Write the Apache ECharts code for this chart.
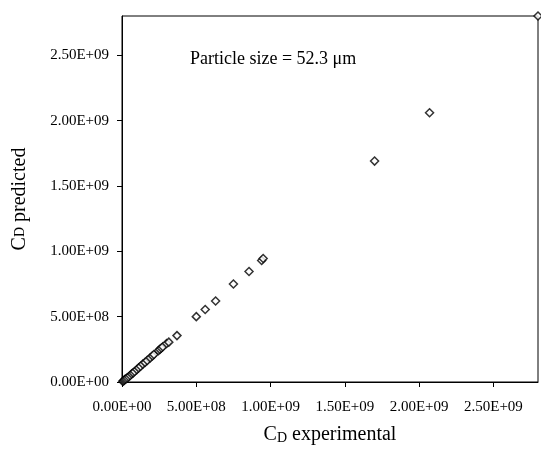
<!DOCTYPE html>
<html>
<head>
<meta charset="utf-8">
<script src="https://cdn.jsdelivr.net/npm/echarts@6/dist/echarts.min.js"></script>
<style>html,body{margin:0;padding:0;background:#fff;}#c{width:541px;height:450px;}</style>
</head>
<body>
<div id="c"></div>
<script>
// C_D experimental (x) and C_D predicted (y), values
const cdExperimental = [0.005e9,0.01e9,0.015e9,0.02e9,0.028e9,0.035e9,0.045e9,0.055e9,0.065e9,0.075e9,0.085e9,0.1e9,0.112e9,0.125e9,0.14e9,0.155e9,0.17e9,0.19e9,0.205e9,0.215e9,0.245e9,0.255e9,0.265e9,0.275e9,0.3e9,0.315e9,0.37e9,0.5e9,0.56e9,0.63e9,0.75e9,0.855e9,0.94e9,0.95e9,1.70e9,2.07e9,2.8e9];
const cdPredicted    = [0.005e9,0.008e9,0.014e9,0.02e9,0.025e9,0.033e9,0.04e9,0.05e9,0.062e9,0.07e9,0.08e9,0.095e9,0.108e9,0.12e9,0.137e9,0.15e9,0.165e9,0.185e9,0.2e9,0.21e9,0.24e9,0.25e9,0.26e9,0.27e9,0.295e9,0.305e9,0.355e9,0.5e9,0.555e9,0.62e9,0.75e9,0.845e9,0.93e9,0.945e9,1.69e9,2.06e9,2.8e9];
const tickLabels = ['0.00E+00','5.00E+08','1.00E+09','1.50E+09','2.00E+09','2.50E+09'];
const annotation = 'Particle size = 52.3 \u03bcm';

const points = cdExperimental.map((v,i)=>[v, cdPredicted[i]]);
const fmt = v => { const i = Math.round(v/5e8); return tickLabels[i] !== undefined ? tickLabels[i] : ''; };
const font = '"Liberation Serif", "Times New Roman", serif';

const chart = echarts.init(document.getElementById('c'), null, {renderer:'canvas'});
chart.setOption({
  animation:false,
  grid:{left:122,right:3,top:16,bottom:67,show:true,borderColor:'#000',borderWidth:1,backgroundColor:'transparent'},
  xAxis:{
    type:'value',min:0,max:2.8e9,interval:5e8,
    axisLine:{show:true,onZero:false,lineStyle:{color:'#000',width:1}},
    axisTick:{show:true,inside:false,length:5,lineStyle:{color:'#000'}},
    axisLabel:{formatter:fmt,color:'#000',fontFamily:font,fontSize:15,margin:18,showMaxLabel:false},
    splitLine:{show:false},
    name:'{a|C}{b|D} experimental',nameLocation:'middle',nameGap:42,
    nameTextStyle:{rich:{a:{fontFamily:font,fontSize:20,color:'#000'},b:{fontFamily:font,fontSize:14,color:'#000',verticalAlign:'bottom',padding:[7,0,0,0]}},fontFamily:font,fontSize:20,color:'#000'}
  },
  yAxis:{
    type:'value',min:0,max:2.8e9,interval:5e8,
    axisLine:{show:true,onZero:false,lineStyle:{color:'#000',width:1}},
    axisTick:{show:true,inside:false,length:5,lineStyle:{color:'#000'}},
    axisLabel:{formatter:fmt,color:'#000',fontFamily:font,fontSize:15,margin:13,showMaxLabel:false},
    splitLine:{show:false},
    name:'{a|C}{b|D} predicted',nameLocation:'middle',nameGap:92,nameRotate:90,
    nameTextStyle:{rich:{a:{fontFamily:font,fontSize:20,color:'#000'},b:{fontFamily:font,fontSize:14,color:'#000'}},fontFamily:font,fontSize:20,color:'#000'}
  },
  graphic:[{type:'text',left:190,top:50,style:{text:annotation,fontFamily:font,fontSize:18,fill:'#000'}}],
  series:[{
    type:'scatter',data:points,symbol:'diamond',symbolSize:8,clip:false,
    itemStyle:{color:'#fff',borderColor:'#000',borderWidth:1.5}
  }]
});
</script>
</body>
</html>
